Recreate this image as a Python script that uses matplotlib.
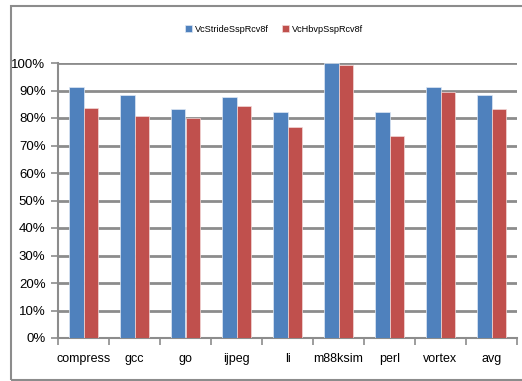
import numpy as np
import matplotlib.pyplot as plt
from matplotlib.patches import Rectangle
from matplotlib.ticker import FixedLocator, PercentFormatter

plt.rcParams['font.family'] = ['Liberation Sans', 'DejaVu Sans']

# ---------- data ----------
benchmarks = ["compress", "gcc", "go", "ijpeg", "li", "m88ksim", "perl", "vortex", "avg"]
stride_ssp = [91.3, 88.5, 83.3, 87.5, 82.3, 100.0, 82.3, 91.3, 88.5]
hbvp_ssp = [83.7, 80.8, 80.1, 84.2, 76.6, 99.4, 73.3, 89.3, 83.3]
series_names = ["VcStrideSspRcv8f", "VcHbvpSspRcv8f"]

grid_col = "#8c8c8c"

fig = plt.figure(figsize=(5.22, 3.81), dpi=100)
ax = fig.add_axes([58 / 522, 43 / 381, 459 / 522, 275 / 381])

x = np.arange(len(benchmarks))
w = 0.29
ax.bar(x - w / 2, stride_ssp, w, color="#4F81BD", edgecolor="#dfe8f4", linewidth=0.5,
       label=series_names[0], zorder=3)
ax.bar(x + w / 2, hbvp_ssp, w, color="#C0504D", edgecolor="#f2d9d8", linewidth=0.5,
       label=series_names[1], zorder=3)

ax.set_xlim(-0.5, len(benchmarks) - 0.5)
ax.set_ylim(0, 100)
ax.set_yticks(np.arange(0, 101, 10))
ax.yaxis.set_major_formatter(PercentFormatter(decimals=0))
ax.yaxis.grid(True, color=grid_col, linewidth=2.0, zorder=0)
ax.set_axisbelow(True)

ax.set_xticks(x)
ax.set_xticklabels(benchmarks)
ax.xaxis.set_minor_locator(FixedLocator(np.arange(-0.5, len(benchmarks), 1.0)))
ax.tick_params(axis="x", which="major", length=0, pad=11, labelsize=9)
ax.tick_params(axis="x", which="minor", length=5, width=1.2, color=grid_col)
ax.tick_params(axis="y", length=5, width=1.2, color=grid_col, labelsize=9.5, pad=4)

for side in ["top", "right"]:
    ax.spines[side].set_visible(False)
for side in ["left", "bottom"]:
    ax.spines[side].set_color(grid_col)
    ax.spines[side].set_linewidth(1.5)

fig.legend(loc="center", bbox_to_anchor=(274 / 522, 1 - 29 / 381), ncol=2, frameon=False,
           fontsize=6.6, handlelength=0.8, handleheight=0.8, handletextpad=0.3,
           columnspacing=1.4)

# chart area border
fig.patches.append(Rectangle((11 / 522, 1 / 381), 1.2, 374 / 381, transform=fig.transFigure,
                             fill=False, edgecolor=grid_col, linewidth=1.5))

fig.savefig("out.png", dpi=100)
